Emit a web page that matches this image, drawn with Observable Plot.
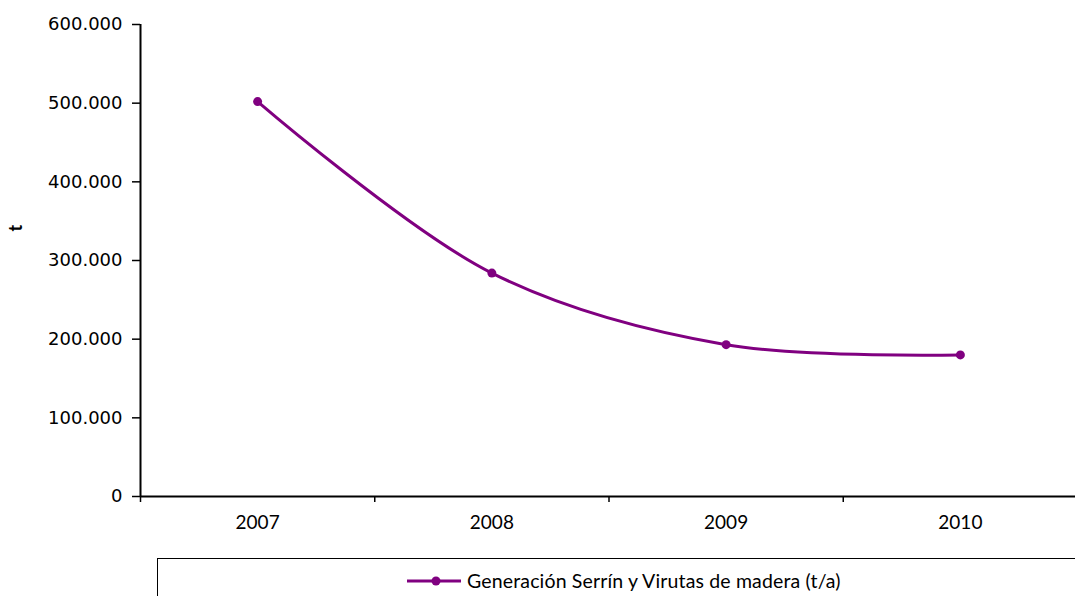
<!DOCTYPE html>
<html>
<head>
<meta charset="utf-8">
<script src="https://cdn.jsdelivr.net/npm/d3@7"></script>
<script src="https://cdn.jsdelivr.net/npm/@observablehq/plot@0.6"></script>
<style>
  html, body { margin: 0; padding: 0; background: #fff; overflow: hidden; }
  #wrap { position: relative; width: 1075px; height: 596px; overflow: hidden; }
  #legend {
    position: absolute; left: 157px; top: 558px; width: 1000px; height: 100px;
    border: 1.5px solid #000; box-sizing: border-box; background: #fff;
  }
  #legend .item { position: absolute; left: 248px; top: 10px; display: flex; align-items: center;
    font-family: Lato, "Open Sans", sans-serif; font-size: 19.5px; letter-spacing: 0.15px; color: #000; white-space: nowrap; }
  #legend svg { margin-right: 5px; }
  #chart svg text { fill: #000; }
</style>
</head>
<body>
<div id="wrap">
  <div id="chart"></div>
  <div id="legend"><div class="item"><svg width="56" height="12"><line x1="1" y1="6" x2="55" y2="6" stroke="#800080" stroke-width="3"/><circle cx="30" cy="6" r="4.5" fill="#800080"/></svg><span id="legendText"></span></div></div>
</div>
<script>
const years = [2007, 2008, 2009, 2010];
const values = [502000, 284000, 193000, 180000];
const yTicks = [0, 100000, 200000, 300000, 400000, 500000, 600000];
const seriesName = "Generación Serrín y Virutas de madera (t/a)";
const yLabel = "t";

const data = years.map((year, i) => ({year, value: values[i]}));
const boundaries = years.map(y => y - 0.5);
const loc = d3.formatLocale({decimal: ",", thousands: ".", grouping: [3], currency: ["", "€"]});
const fmt = loc.format(",d");

document.getElementById("legendText").textContent = seriesName;

const plot = Plot.plot({
  width: 1075,
  height: 545,
  marginLeft: 140,
  marginRight: 0,
  marginTop: 24,
  marginBottom: 49,
  style: {fontFamily: "Lato, sans-serif", overflow: "visible"},
  x: {type: "linear", domain: [2006.5, 2010.5], range: [140, 1077]},
  y: {domain: [0, 600000]},
  marks: [
    Plot.axisY({ticks: yTicks, tickFormat: fmt, tickSize: 8, tickPadding: 10, fontSize: 18,
      fontFamily: "DejaVu Sans", label: null, color: "#000", strokeWidth: 1.5}),
    Plot.axisX({ticks: years, tickFormat: d => String(d), tickSize: 0, tickPadding: 19,
      fontSize: 19, label: null, color: "#000"}),
    Plot.axisX({ticks: boundaries, tickFormat: () => "", tickSize: 6, label: null, color: "#000", strokeWidth: 1.5}),
    Plot.ruleX([2006.5], {stroke: "#000", strokeWidth: 2}),
    Plot.ruleY([0], {stroke: "#000", strokeWidth: 2}),
    Plot.text([yLabel], {frameAnchor: "left", dx: -124, dy: -29, rotate: -90, fontWeight: "bold",
      fontSize: 18, fontFamily: "Lato, sans-serif", fill: "#000"}),
    Plot.line(data, {x: "year", y: "value", stroke: "#800080", strokeWidth: 3, curve: "catmull-rom"}),
    Plot.dot(data, {x: "year", y: "value", r: 4.5, fill: "#800080", stroke: "none"})
  ]
});
document.getElementById("chart").appendChild(plot);
</script>
</body>
</html>
